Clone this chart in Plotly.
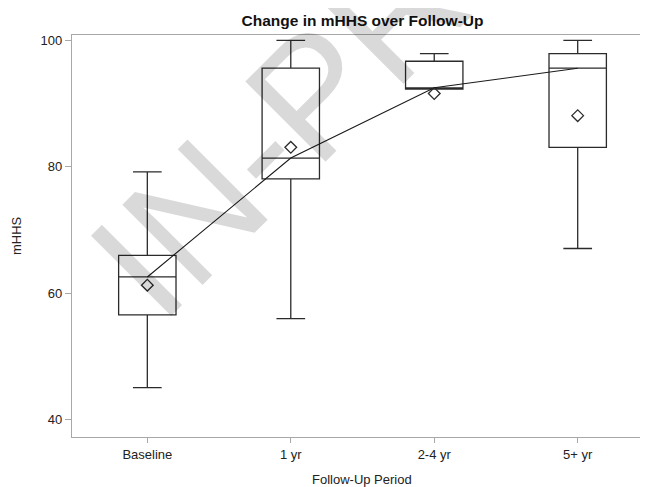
import plotly.graph_objects as go

categories = ["Baseline", "1 yr", "2-4 yr", "5+ yr"]
q1_vals = [56.6, 78.1, 92.3, 83.1]
median_vals = [62.6, 81.4, 92.5, 95.6]
q3_vals = [66.0, 95.6, 96.7, 97.9]
lower_whisker = [45.1, 56.0, 92.3, 67.1]
upper_whisker = [79.2, 100.0, 97.9, 100.0]
mean_vals = [61.3, 83.1, 91.6, 88.1]
y_ticks = [40, 60, 80, 100]

FONT = "Liberation Sans, Arial, sans-serif"
INK = "#2b2b2b"
AXIS = "#a8a8a8"
TXT = "#222222"

fig = go.Figure()

fig.add_trace(go.Box(
    x=categories,
    q1=q1_vals, median=median_vals, q3=q3_vals,
    lowerfence=lower_whisker, upperfence=upper_whisker,
    width=0.4, whiskerwidth=0.5,
    line=dict(color=INK, width=1.3),
    fillcolor="rgba(0,0,0,0)",
    boxpoints=False, hoverinfo="skip", showlegend=False,
))

fig.add_trace(go.Scatter(
    x=categories, y=median_vals, mode="lines",
    line=dict(color="#1a1a1a", width=1.1),
    hoverinfo="skip", showlegend=False,
))

fig.add_trace(go.Scatter(
    x=categories, y=mean_vals, mode="markers",
    marker=dict(symbol="diamond-open", size=9, color=INK, line=dict(width=1.3, color=INK)),
    hoverinfo="skip", showlegend=False,
))

# watermark
fig.add_annotation(
    text="IN-PRESS", textangle=-45,
    xref="paper", yref="paper", x=0.562, y=1.06,
    xanchor="center", yanchor="middle", showarrow=False,
    font=dict(family=FONT, size=165, color="rgba(0,0,0,0.15)"),
)

# axis titles
fig.add_annotation(
    text="Follow-Up Period", xref="paper", yref="paper",
    x=0.5043, y=-0.1045, xanchor="center", yanchor="middle", showarrow=False,
    font=dict(family=FONT, size=13, color=TXT),
)
fig.add_annotation(
    text="mHHS", textangle=-90, xref="paper", yref="paper",
    x=-0.0972, y=0.5, xanchor="center", yanchor="middle", showarrow=False,
    font=dict(family=FONT, size=13, color=TXT),
)

fig.update_layout(
    width=640, height=479,
    margin=dict(l=64, r=0, t=27.3, b=50, autoexpand=False),
    paper_bgcolor="white", plot_bgcolor="white",
    showlegend=False,
    title=dict(
        text="<b>Change in mHHS over Follow-Up</b>",
        font=dict(family=FONT, size=15.5, color="#111111"),
        xref="paper", x=0.5043, xanchor="center",
        yref="container", y=1 - 13 / 479, yanchor="middle",
    ),
    xaxis=dict(
        type="category", range=[-0.525, 3.49], automargin=False,
        showline=True, linecolor=AXIS, linewidth=1.3, mirror=True,
        ticks="outside", ticklen=5, tickcolor=AXIS, tickwidth=1,
        showgrid=False, zeroline=False,
        tickfont=dict(family=FONT, size=13, color=TXT),
    ),
    yaxis=dict(
        range=[37.3, 100.85], tickvals=y_ticks, automargin=False,
        showline=True, linecolor=AXIS, linewidth=1.3, mirror=False,
        ticks="outside", ticklen=6, tickcolor=AXIS, tickwidth=1,
        showgrid=False, zeroline=False,
        tickfont=dict(family=FONT, size=13, color=TXT),
    ),
)

fig.write_html("out.html")
